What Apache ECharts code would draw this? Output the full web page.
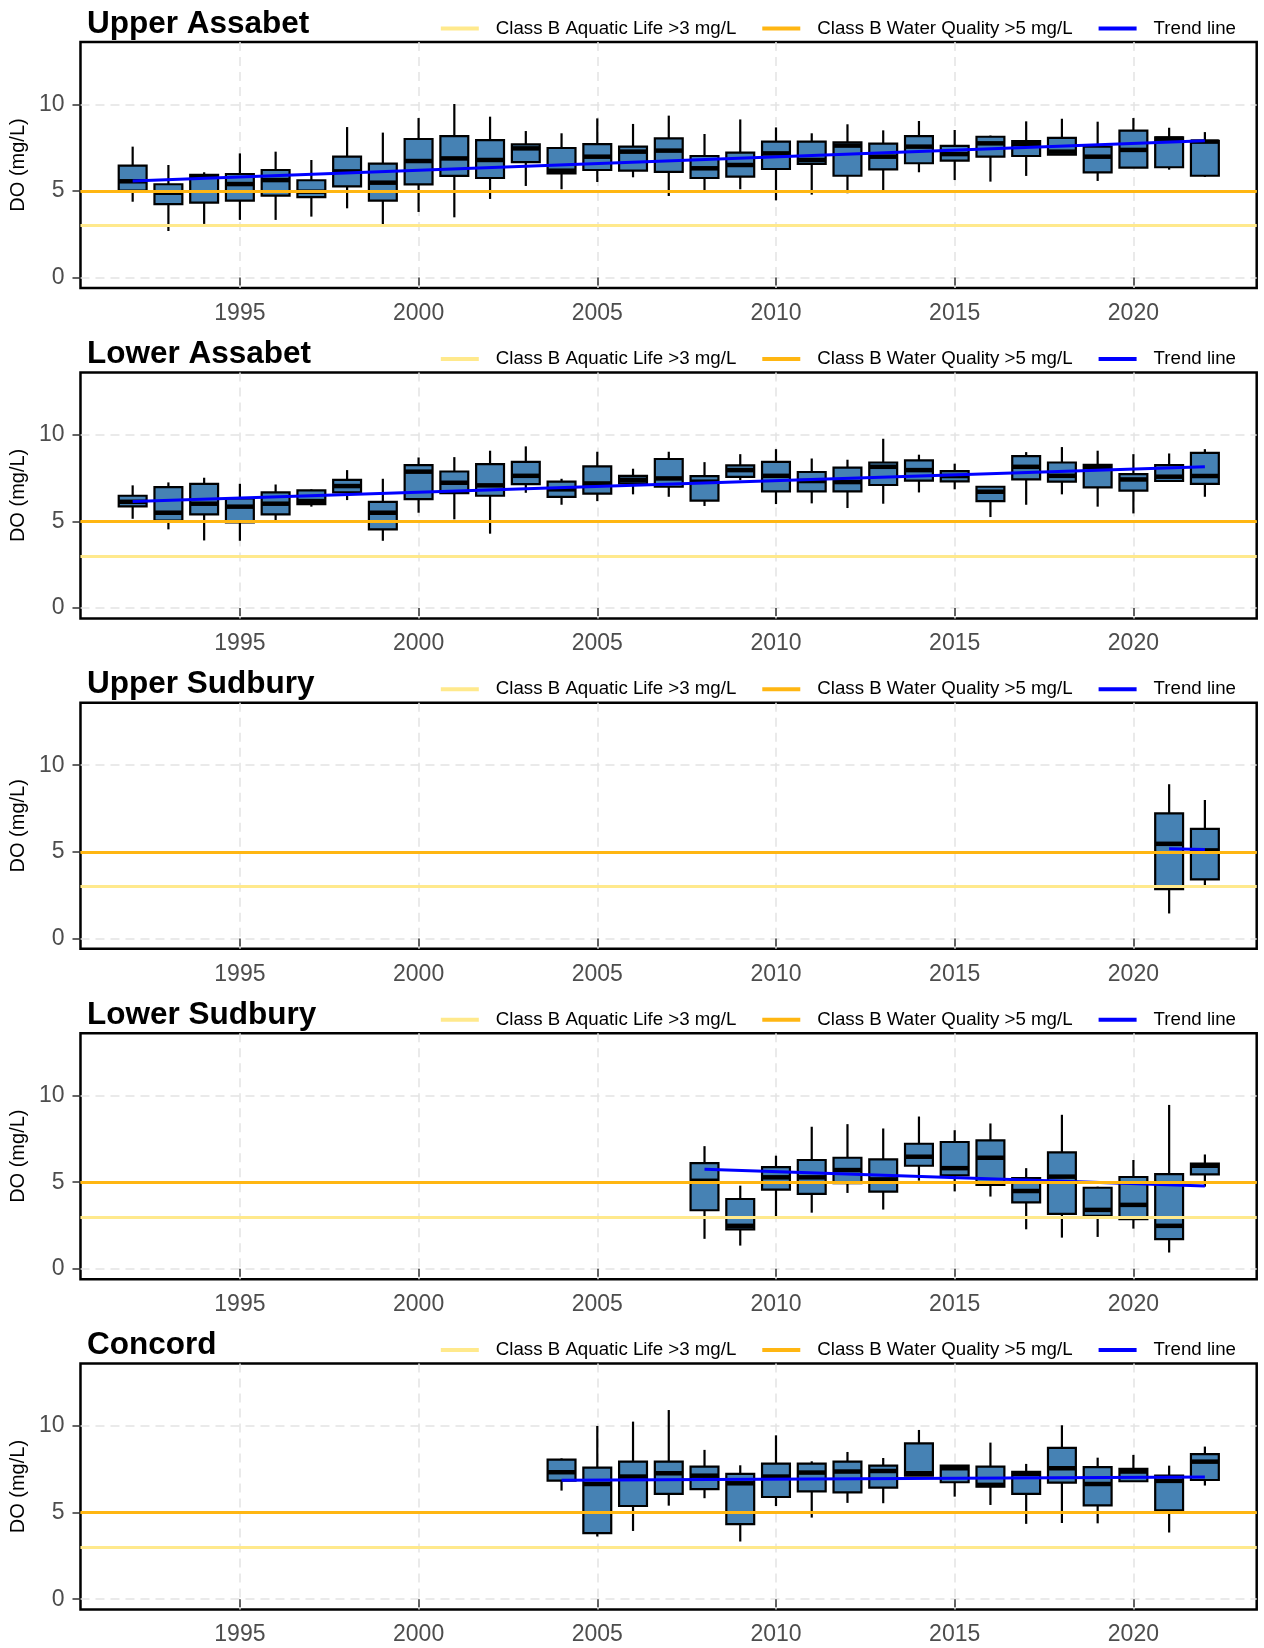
<!DOCTYPE html>
<html>
<head>
<meta charset="utf-8">
<script src="https://cdn.jsdelivr.net/npm/echarts@6/dist/echarts.min.js"></script>
<style>
  html, body { margin: 0; padding: 0; background: #fff; }
  #chart { width: 1264px; height: 1648px; }
</style>
</head>
<body>
<div id="chart"></div>
<script>
// ---- Data: [year, min, Q1, median, Q3, max] ----
const upperAssabet = [
  [1992, 4.38, 5.02, 5.56, 6.46, 7.56],
  [1993, 2.69, 4.24, 4.90, 5.39, 6.50],
  [1994, 3.10, 4.33, 5.85, 5.93, 6.08],
  [1995, 3.33, 4.44, 5.40, 5.98, 7.17],
  [1996, 3.33, 4.73, 5.63, 6.21, 7.27],
  [1997, 3.52, 4.65, 4.96, 5.62, 6.79],
  [1998, 4.00, 5.27, 6.13, 6.98, 8.69],
  [1999, 3.04, 4.44, 5.48, 6.58, 8.37],
  [2000, 3.79, 5.38, 6.73, 8.00, 9.21],
  [2001, 3.48, 5.87, 6.88, 8.17, 10.02],
  [2002, 4.54, 5.75, 6.79, 7.94, 9.29],
  [2003, 5.29, 6.67, 7.46, 7.69, 8.46],
  [2004, 5.10, 6.02, 6.17, 7.48, 8.33],
  [2005, 5.52, 6.21, 6.98, 7.71, 9.19],
  [2006, 5.79, 6.17, 7.27, 7.56, 8.87],
  [2007, 4.71, 6.10, 7.33, 8.04, 9.35],
  [2008, 4.90, 5.75, 6.31, 7.02, 8.29],
  [2009, 5.10, 5.83, 6.50, 7.21, 9.13],
  [2010, 4.46, 6.27, 7.17, 7.85, 8.67],
  [2011, 4.79, 6.56, 6.79, 7.85, 8.33],
  [2012, 4.87, 5.88, 7.62, 7.81, 8.85],
  [2013, 5.00, 6.25, 6.98, 7.73, 8.50],
  [2014, 6.08, 6.60, 7.56, 8.17, 9.04],
  [2015, 5.63, 6.75, 7.13, 7.60, 8.52],
  [2016, 5.54, 6.98, 7.75, 8.13, 8.20],
  [2017, 5.87, 7.02, 7.71, 7.88, 9.02],
  [2018, 7.10, 7.10, 7.27, 8.06, 9.17],
  [2019, 5.58, 6.08, 6.98, 7.56, 9.00],
  [2020, 6.35, 6.35, 7.37, 8.48, 9.21],
  [2021, 6.23, 6.37, 8.02, 8.10, 8.65],
  [2022, 5.81, 5.88, 7.85, 7.90, 8.40]
];
const lowerAssabet = [
  [1992, 5.15, 5.87, 6.13, 6.48, 7.08],
  [1993, 4.54, 5.04, 5.50, 6.98, 7.25],
  [1994, 3.90, 5.40, 6.02, 7.17, 7.52],
  [1995, 3.88, 4.94, 5.85, 6.33, 7.17],
  [1996, 5.04, 5.40, 6.02, 6.67, 7.13],
  [1997, 5.85, 6.00, 6.17, 6.79, 6.85],
  [1998, 6.23, 6.67, 7.04, 7.40, 7.96],
  [1999, 3.88, 4.54, 5.50, 6.13, 7.46],
  [2000, 5.50, 6.29, 7.87, 8.25, 8.69],
  [2001, 5.12, 6.63, 7.23, 7.88, 8.71],
  [2002, 4.29, 6.48, 7.08, 8.31, 9.08],
  [2003, 6.65, 7.15, 7.63, 8.44, 9.33],
  [2004, 5.96, 6.42, 6.85, 7.29, 7.46],
  [2005, 6.17, 6.60, 7.19, 8.17, 9.02],
  [2006, 6.56, 7.19, 7.40, 7.63, 8.04],
  [2007, 6.42, 7.00, 7.48, 8.60, 9.02],
  [2008, 5.89, 6.20, 7.29, 7.61, 8.42],
  [2009, 7.38, 7.57, 7.96, 8.23, 8.88],
  [2010, 6.00, 6.73, 7.63, 8.44, 9.17],
  [2011, 6.04, 6.73, 7.33, 7.85, 8.63],
  [2012, 5.77, 6.73, 7.27, 8.10, 8.56],
  [2013, 6.02, 7.10, 8.15, 8.40, 9.77],
  [2014, 6.67, 7.35, 7.96, 8.52, 8.85],
  [2015, 6.85, 7.31, 7.62, 7.90, 8.33],
  [2016, 5.25, 6.17, 6.71, 7.00, 7.00],
  [2017, 5.96, 7.42, 8.15, 8.77, 9.00],
  [2018, 6.56, 7.29, 7.63, 8.40, 9.29],
  [2019, 5.85, 6.96, 8.15, 8.27, 9.08],
  [2020, 5.46, 6.77, 7.42, 7.73, 8.88],
  [2021, 7.29, 7.33, 7.58, 8.25, 8.92],
  [2022, 6.42, 7.17, 7.62, 8.96, 9.17]
];
const upperSudbury = [
  [2021, 1.44, 2.85, 5.46, 7.22, 8.90],
  [2022, 3.05, 3.41, 5.08, 6.32, 7.99]
];
const lowerSudbury = [
  [2008, 1.73, 3.38, 5.08, 6.10, 7.08],
  [2009, 1.34, 2.28, 2.48, 4.03, 4.80],
  [2010, 2.96, 4.57, 5.28, 5.87, 6.53],
  [2011, 3.24, 4.32, 5.28, 6.28, 8.20],
  [2012, 4.38, 4.94, 5.70, 6.41, 8.35],
  [2013, 3.42, 4.45, 5.16, 6.32, 8.10],
  [2014, 5.09, 5.95, 6.47, 7.22, 8.79],
  [2015, 4.47, 5.39, 5.81, 7.32, 8.00],
  [2016, 4.17, 4.84, 6.41, 7.41, 8.39],
  [2017, 2.28, 3.84, 4.49, 5.24, 5.81],
  [2018, 1.80, 3.17, 5.32, 6.72, 8.89],
  [2019, 1.84, 3.05, 3.40, 4.68, 4.74],
  [2020, 2.32, 2.86, 3.69, 5.30, 6.28],
  [2021, 0.94, 1.71, 2.48, 5.47, 9.46],
  [2022, 4.74, 5.45, 5.95, 6.08, 6.60]
];
const concord = [
  [2004, 6.27, 6.85, 7.33, 8.06, 8.13],
  [2005, 3.62, 3.81, 6.65, 7.60, 10.00],
  [2006, 3.94, 5.38, 7.08, 7.94, 10.25],
  [2007, 5.40, 6.08, 7.27, 7.94, 10.92],
  [2008, 5.83, 6.35, 7.13, 7.65, 8.62],
  [2009, 3.33, 4.33, 6.69, 7.23, 7.73],
  [2010, 5.38, 5.90, 7.08, 7.83, 9.46],
  [2011, 4.71, 6.23, 7.31, 7.83, 7.96],
  [2012, 5.56, 6.17, 7.37, 7.94, 8.50],
  [2013, 5.54, 6.44, 7.40, 7.71, 8.15],
  [2014, 7.13, 7.13, 7.27, 9.00, 9.77],
  [2015, 5.92, 6.75, 7.56, 7.71, 7.71],
  [2016, 5.44, 6.50, 6.60, 7.65, 9.04],
  [2017, 4.35, 6.08, 7.23, 7.35, 7.81],
  [2018, 4.40, 6.73, 7.56, 8.73, 10.04],
  [2019, 4.38, 5.42, 6.65, 7.62, 8.17],
  [2020, 6.81, 6.81, 7.37, 7.52, 8.33],
  [2021, 3.85, 5.13, 6.83, 7.13, 7.71],
  [2022, 6.56, 6.88, 7.94, 8.37, 8.81]
];
// Trend lines: [year, DO]
const upperAssabetTrend = [[1992, 5.58], [2022, 7.90]];
const lowerAssabetTrend = [[1992, 6.15], [2022, 8.15]];
const upperSudburyTrend = [[2021, 5.17], [2022, 5.13]];
const lowerSudburyTrend = [[2008, 5.74], [2022, 4.78]];
const concordTrend = [[2004, 6.87], [2022, 7.06]];

const panelTitles = ['Upper Assabet', 'Lower Assabet', 'Upper Sudbury', 'Lower Sudbury', 'Concord'];
const aquaticLifeLevel = 3;
const waterQualityLevel = 5;
const legendNames = ['Class B Aquatic Life >3 mg/L', 'Class B Water Quality >5 mg/L', 'Trend line'];
const xTicks = [1995, 2000, 2005, 2010, 2015, 2020];
const yTicks = [0, 5, 10];
const yAxisTitle = 'DO (mg/L)';

// ---- Rendering ----
const panels = [
  {title: panelTitles[0], box: upperAssabet, trend: upperAssabetTrend},
  {title: panelTitles[1], box: lowerAssabet, trend: lowerAssabetTrend},
  {title: panelTitles[2], box: upperSudbury, trend: upperSudburyTrend},
  {title: panelTitles[3], box: lowerSudbury, trend: lowerSudburyTrend},
  {title: panelTitles[4], box: concord, trend: concordTrend}
];

const FONT = 'Liberation Sans, Arial, Helvetica, sans-serif';
const PANEL_STEP = 330.4;
const BOX_W = 0.78;
const COL_AQ = '#FFE98C';
const COL_WQ = '#FFB612';
const COL_TR = '#0000FF';
const BOX_FILL = '#4682B4';

function renderBox(params, api) {
  const x = api.value(0);
  const lo = api.coord([x, api.value(1)]);
  const q1 = api.coord([x, api.value(2)]);
  const md = api.coord([x, api.value(3)]);
  const q3 = api.coord([x, api.value(4)]);
  const hi = api.coord([x, api.value(5)]);
  const w = api.size([BOX_W, 0])[0];
  const cx = lo[0];
  return {
    type: 'group',
    children: [
      {type: 'line', shape: {x1: cx, y1: hi[1], x2: cx, y2: q3[1]}, style: {stroke: '#000', lineWidth: 2.2}},
      {type: 'line', shape: {x1: cx, y1: q1[1], x2: cx, y2: lo[1]}, style: {stroke: '#000', lineWidth: 2.2}},
      {type: 'rect', shape: {x: cx - w / 2, y: q3[1], width: w, height: q1[1] - q3[1]},
        style: {fill: BOX_FILL, stroke: '#000', lineWidth: 2.2}},
      {type: 'line', shape: {x1: cx - w / 2, y1: md[1], x2: cx + w / 2, y2: md[1]},
        style: {stroke: '#000', lineWidth: 4.5}}
    ]
  };
}

const option = {
  animation: false,
  backgroundColor: '#fff',
  title: [], legend: [], grid: [], xAxis: [], yAxis: [], series: []
};

panels.forEach((p, i) => {
  const off = i * PANEL_STEP;
  option.title.push({
    text: p.title, left: 87, top: 8 + off, padding: 0,
    textStyle: {fontFamily: FONT, fontSize: 31.5, fontWeight: 'bold', color: '#000'}
  });
  option.legend.push({
    data: legendNames, right: 28, top: 19 + off, padding: 0,
    icon: 'rect', itemWidth: 38, itemHeight: 4, itemGap: 26,
    selectedMode: false,
    textStyle: {fontFamily: FONT, fontSize: 18.7, color: '#000', padding: [0, 0, 0, 12]}
  });
  option.grid.push({
    left: 79.3, top: 42 + off, width: 1177.4, height: 246,
    show: true, borderColor: '#000', borderWidth: 2.5, backgroundColor: 'transparent'
  });
  option.xAxis.push({
    type: 'value', gridIndex: i, min: 1990.54, max: 2023.45,
    axisLine: {show: false},
    axisTick: {show: true, customValues: xTicks, length: 8, lineStyle: {color: '#333', width: 1.5}},
    axisLabel: {customValues: xTicks, fontFamily: FONT, fontSize: 23, color: '#4D4D4D', margin: 14,
      formatter: v => (xTicks.indexOf(v) >= 0 ? String(v) : '')},
    splitLine: {show: true, lineStyle: {color: '#E3E3E3', width: 1.5, type: [9, 6]}}
  });
  option.yAxis.push({
    type: 'value', gridIndex: i, min: -0.6, max: 13.6,
    name: yAxisTitle, nameLocation: 'middle', nameGap: 48,
    nameTextStyle: {fontFamily: FONT, fontSize: 20, color: '#000'},
    axisLine: {show: false},
    axisTick: {show: true, customValues: yTicks, length: 8, lineStyle: {color: '#333', width: 1.5}},
    axisLabel: {customValues: yTicks, fontFamily: FONT, fontSize: 23, color: '#4D4D4D', margin: 16,
      formatter: v => (yTicks.indexOf(v) >= 0 ? String(v) : '')},
    splitLine: {show: true, lineStyle: {color: '#E3E3E3', width: 1.5, type: [9, 6]}}
  });
  option.series.push({
    name: legendNames[0], type: 'line', xAxisIndex: i, yAxisIndex: i, data: [],
    itemStyle: {color: COL_AQ}, lineStyle: {color: COL_AQ},
    markLine: {silent: true, symbol: ['none', 'none'], label: {show: false},
      lineStyle: {color: COL_AQ, width: 3, type: 'solid'}, data: [{yAxis: aquaticLifeLevel}]}
  });
  option.series.push({
    name: legendNames[1], type: 'line', xAxisIndex: i, yAxisIndex: i, data: [],
    itemStyle: {color: COL_WQ}, lineStyle: {color: COL_WQ},
    markLine: {silent: true, symbol: ['none', 'none'], label: {show: false},
      lineStyle: {color: COL_WQ, width: 3, type: 'solid'}, data: [{yAxis: waterQualityLevel}]}
  });
  option.series.push({
    name: 'box' + i, type: 'custom', xAxisIndex: i, yAxisIndex: i,
    renderItem: renderBox, data: p.box,
    encode: {x: 0, y: [1, 2, 3, 4, 5]}, silent: true, z: 3
  });
  option.series.push({
    name: legendNames[2], type: 'line', xAxisIndex: i, yAxisIndex: i, data: p.trend,
    showSymbol: false, symbol: 'none',
    itemStyle: {color: COL_TR}, lineStyle: {color: COL_TR, width: 3}, z: 4
  });
});

const chart = echarts.init(document.getElementById('chart'), null, {renderer: 'canvas'});
chart.setOption(option);
</script>
</body>
</html>
